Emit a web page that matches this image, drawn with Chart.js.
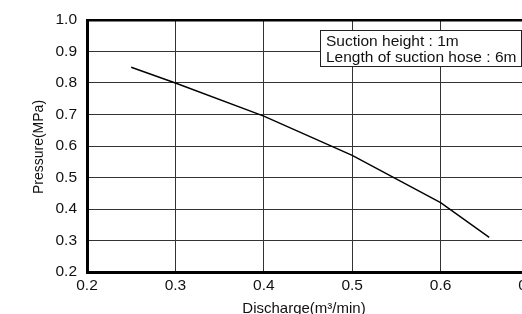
<!DOCTYPE html>
<html>
<head>
<meta charset="utf-8">
<script src="https://cdn.jsdelivr.net/npm/chart.js@4/dist/chart.umd.min.js"></script>
<style>
  html, body { margin: 0; padding: 0; background: #fff; overflow: hidden; }
  #wrap { width: 522px; height: 314px; overflow: hidden; }
</style>
</head>
<body>
<div id="wrap"><canvas id="pumpChart" width="560" height="314"></canvas></div>
<script>
// values
const discharge = [0.25, 0.3, 0.4, 0.5, 0.6, 0.655]
const pressure = [0.85, 0.80, 0.695, 0.57, 0.42, 0.31]
const noteLines = ['Suction height : 1m', 'Length of suction hose : 6m']
const xTitle = 'Discharge(m³/min)'
const yTitle = 'Pressure(MPa)'

const fontFam = '"Liberation Sans", Arial, sans-serif'

const notePlugin = {
    id: 'notePlugin',
    afterDraw(chart) {
        const ctx = chart.ctx
        ctx.save()
        // condition box
        ctx.fillStyle = '#fff'
        ctx.fillRect(320, 30, 202, 37)
        ctx.strokeStyle = '#222'
        ctx.lineWidth = 1
        ctx.strokeRect(320.5, 30.5, 201, 36)
        ctx.fillStyle = '#111'
        ctx.font = '15.5px ' + fontFam
        ctx.textBaseline = 'middle'
        ctx.textAlign = 'left'
        ctx.fillText(noteLines[0], 326, 42)
        ctx.fillText(noteLines[1], 326, 58)
        // axis titles
        ctx.font = '15px ' + fontFam
        ctx.textAlign = 'center'
        ctx.textBaseline = 'alphabetic'
        ctx.fillText(xTitle, 304, 313)
        ctx.font = '14px ' + fontFam
        ctx.textBaseline = 'middle'
        ctx.translate(39, 147)
        ctx.rotate(-Math.PI / 2)
        ctx.fillText(yTitle, 0, 0)
        ctx.restore()
    }
}

const chartEl = document.getElementById('pumpChart').getContext('2d')
new Chart(chartEl, {
    type: 'line',
    data: {
        datasets: [{
            data: discharge.map((d, i) => ({ x: d, y: pressure[i] })),
            borderColor: '#000',
            borderWidth: 1.4,
            pointRadius: 0,
            tension: 0,
            fill: false
        }]
    },
    options: {
        responsive: false,
        animation: false,
        layout: { padding: { top: 20, right: 31, left: 0, bottom: 0 } },
        plugins: { legend: { display: false }, tooltip: { enabled: false } },
        scales: {
            x: {
                type: 'linear',
                min: 0.2, max: 0.7,
                afterFit: scale => { scale.height = 42 },
                ticks: {
                    stepSize: 0.1,
                    padding: 4,
                    color: '#111',
                    font: { family: fontFam, size: 15.5 },
                    callback: v => v.toFixed(1)
                },
                grid: { color: '#333', lineWidth: 1, drawTicks: false },
                border: { color: '#000', width: 3 }
            },
            y: {
                min: 0.2, max: 1.0,
                afterFit: scale => { scale.width = 87 },
                ticks: {
                    stepSize: 0.1,
                    padding: 10,
                    color: '#111',
                    font: { family: fontFam, size: 15.5 },
                    callback: v => v.toFixed(1)
                },
                grid: {
                    color: ctx => (ctx.tick && Math.abs(ctx.tick.value - 1) < 1e-6) ? '#000' : '#333',
                    lineWidth: ctx => (ctx.tick && Math.abs(ctx.tick.value - 1) < 1e-6) ? 2.5 : 1,
                    drawTicks: false
                },
                border: { color: '#000', width: 3 }
            }
        }
    },
    plugins: [notePlugin]
})
</script>
</body>
</html>
